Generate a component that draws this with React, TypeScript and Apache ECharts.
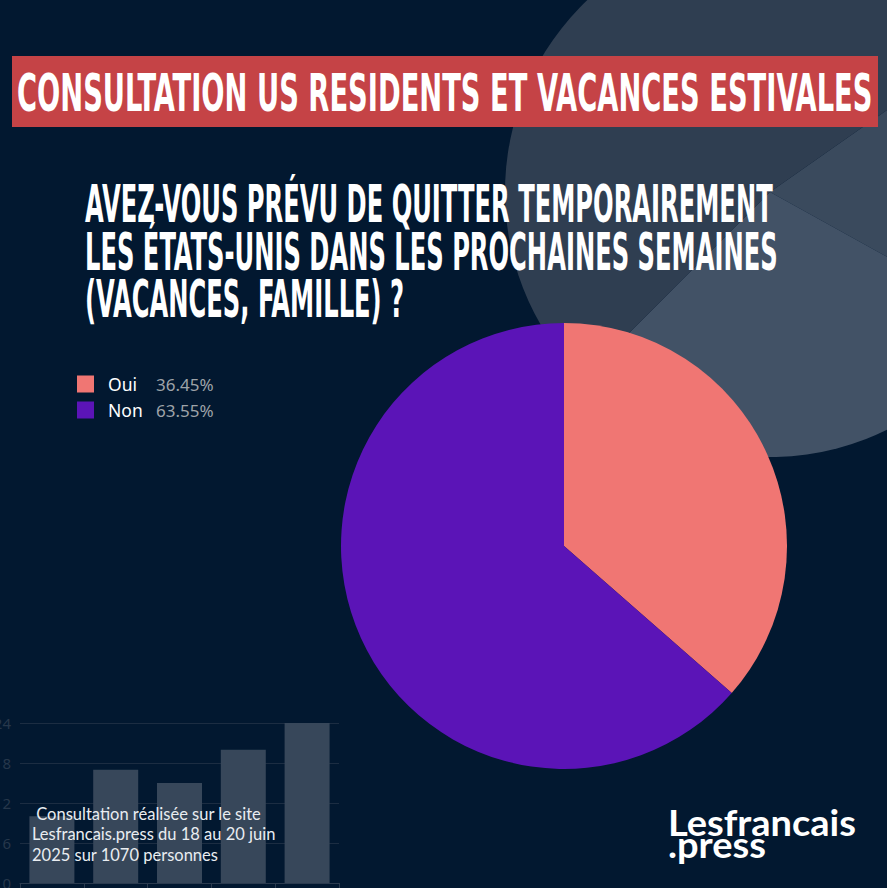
import React, { useEffect, useRef } from "react";
import * as echarts from "echarts";

// Main poll
const answers = ["Oui", "Non"];
const shares = [36.45, 63.55];
const answerColors = ["#f07673", "#5b14b7"];

// Decorative background pie (grey)
const decoValues = [64, 106, 190];
const decoColors = ["#3a4a5d", "#425266", "#2f3e51"];

// Decorative background bar chart
const decoBarCats = ["a", "b", "c", "d", "e"];
const decoBarValues = [10, 17, 15, 20, 24];

const titleText = "CONSULTATION US RESIDENTS ET VACANCES ESTIVALES";
const questionLines = [
  "AVEZ-VOUS PRÉVU DE QUITTER TEMPORAIREMENT",
  "LES ÉTATS-UNIS DANS LES PROCHAINES SEMAINES",
  "(VACANCES, FAMILLE) ?",
];
const noteLines = [
  " Consultation réalisée sur le site",
  "Lesfrancais.press du 18 au 20 juin",
  "2025 sur 1070 personnes",
];
const logoLines = ["Lesfrancais", ".press"];

function measure(text: string, font: string): number {
  const c = document.createElement("canvas").getContext("2d");
  if (!c) return text.length * 20;
  c.font = font;
  return c.measureText(text).width;
}

export default function App() {
  const ref = useRef<HTMLDivElement>(null);
  useEffect(() => {
    if (!ref.current) return;
    const chart = echarts.init(ref.current, null, { renderer: "svg" });

    const condFamily = '"DejaVu Sans Condensed", "DejaVu Sans"';
    const titleFs = 51;
    const titleFont = `bold ${titleFs}px ${condFamily}`;
    const titleScale = 855 / measure(titleText, titleFont);
    const qFs = 51;
    const qFont = `bold ${qFs}px ${condFamily}`;
    const qScale =
      (687 / measure(questionLines[0], qFont) + 693 / measure(questionLines[1], qFont)) / 2;
    const logoFs = 37;
    const logoFont = `bold ${logoFs}px Lato`;
    const logoScale = 188 / measure(logoLines[0], logoFont);

    const qY = [204, 252, 299];
    const noteY = [813.5, 834, 855];
    const logoY = [821.5, 843.5];

    const graphics: any[] = [
      {
        type: "rect",
        z: 100,
        shape: { x: 12, y: 56, width: 866, height: 71 },
        style: { fill: "#c54346" },
      },
      {
        type: "text",
        z: 101,
        x: 17,
        y: 93,
        scaleX: titleScale,
        style: {
          text: titleText,
          fill: "#ffffff",
          fontFamily: condFamily,
          fontWeight: "bold",
          fontSize: titleFs,
          align: "left",
          verticalAlign: "middle",
        },
      },
      ...questionLines.map((t, i) => ({
        type: "text",
        z: 101,
        x: 85,
        y: qY[i],
        scaleX: qScale,
        style: {
          text: t,
          fill: "#ffffff",
          fontFamily: condFamily,
          fontWeight: "bold",
          fontSize: qFs,
          align: "left",
          verticalAlign: "middle",
        },
      })),
      ...noteLines.map((t, i) => ({
        type: "text",
        z: 101,
        x: 32,
        y: noteY[i],
        style: {
          text: t,
          fill: "#e9edf1",
          fontFamily: "Lato",
          fontSize: 16.5,
          align: "left",
          verticalAlign: "middle",
        },
      })),
      ...logoLines.map((t, i) => ({
        type: "text",
        z: 101,
        x: 668,
        y: logoY[i],
        scaleX: logoScale,
        style: {
          text: t,
          fill: "#ffffff",
          fontFamily: "Lato",
          fontWeight: "bold",
          fontSize: logoFs,
          align: "left",
          verticalAlign: "middle",
        },
      })),
    ];

    chart.setOption({
      animation: false,
      backgroundColor: "#021830",
      legend: {
        data: answers,
        orient: "vertical",
        left: 72,
        top: 370,
        itemWidth: 17,
        itemHeight: 17,
        itemGap: 8,
        icon: "rect",
        formatter: (name: string) => {
          const i = answers.indexOf(name);
          return `{n|${name}}{v|${shares[i].toFixed(2)}%}`;
        },
        textStyle: {
          rich: {
            n: {
              width: 48,
              padding: [0, 0, 0, 9],
              color: "#ffffff",
              fontSize: 17.5,
              fontFamily: "Noto Sans",
              fontWeight: "normal",
            },
            v: {
              color: "#9ea3a8",
              fontSize: 17,
              fontFamily: "Noto Sans",
            },
          },
        },
      },
      grid: {
        left: 20,
        top: 723,
        width: 319,
        height: 160,
        containLabel: false,
        outerBoundsMode: "none",
      },
      xAxis: {
        type: "category",
        data: decoBarCats,
        axisLabel: { show: false },
        axisLine: { lineStyle: { color: "#2b3b4f", width: 1 } },
        axisTick: { show: true, length: 5, lineStyle: { color: "#2b3b4f" } },
      },
      yAxis: {
        type: "value",
        min: 0,
        max: 24,
        interval: 6,
        axisLine: { show: false },
        axisTick: { show: false },
        axisLabel: { color: "#26374b", fontSize: 15, margin: 9, fontFamily: "Noto Sans" },
        splitLine: { lineStyle: { color: "#1c2d42" } },
      },
      series: [
        {
          type: "bar",
          data: decoBarValues,
          barWidth: 45,
          silent: true,
          z: 1,
          itemStyle: { color: "#37475a" },
        },
        {
          type: "pie",
          name: "deco",
          silent: true,
          z: 1,
          center: [770, 192],
          radius: 265,
          startAngle: 35,
          clockwise: true,
          label: { show: false },
          labelLine: { show: false },
          data: decoValues.map((v, i) => ({
            value: v,
            name: `deco${i}`,
            itemStyle: { color: decoColors[i] },
          })),
        },
        {
          type: "pie",
          name: "poll",
          z: 3,
          center: [564, 546],
          radius: 223,
          startAngle: 90,
          clockwise: true,
          label: { show: false },
          labelLine: { show: false },
          data: answers.map((a, i) => ({
            value: shares[i],
            name: a,
            itemStyle: { color: answerColors[i] },
          })),
        },
      ],
      graphic: graphics,
    });
    return () => chart.dispose();
  }, []);
  return (
    <div
      ref={ref}
      style={{ position: "fixed", left: 0, top: 0, width: 887, height: 888 }}
    />
  );
}
